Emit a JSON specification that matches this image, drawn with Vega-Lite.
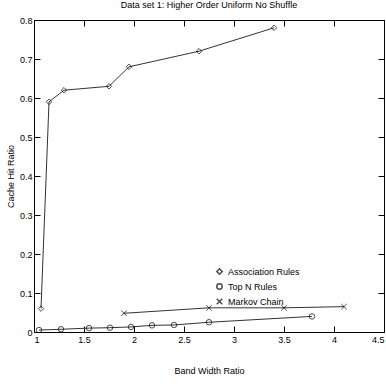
{
  "$schema": "https://vega.github.io/schema/vega-lite/v6.json",
  "width": 350,
  "height": 312,
  "autosize": {"type": "none"},
  "padding": {"left": 34, "top": 20, "right": 2, "bottom": 60},
  "background": "white",
  "config": {
    "font": "Liberation Sans",
    "view": {"stroke": "black", "strokeWidth": 1},
    "axis": {"grid": false, "domain": false, "labelFont": "Liberation Sans", "labelFontSize": 9, "labelColor": "black", "titleFont": "Liberation Sans", "titleFontSize": 9, "titleFontWeight": "normal", "titleColor": "black"}
  },
  "title": {"text": "Data set 1: Higher Order Uniform No Shuffle", "fontSize": 9, "fontWeight": "normal", "font": "Liberation Sans", "offset": 6, "color": "black"},
  "data": {"values": [
    {"series": "Association Rules", "x": 1.07, "y": 0.06},
    {"series": "Association Rules", "x": 1.15, "y": 0.59},
    {"series": "Association Rules", "x": 1.3, "y": 0.62},
    {"series": "Association Rules", "x": 1.75, "y": 0.63},
    {"series": "Association Rules", "x": 1.95, "y": 0.68},
    {"series": "Association Rules", "x": 2.65, "y": 0.72},
    {"series": "Association Rules", "x": 3.4, "y": 0.78},
    {"series": "Top N Rules", "x": 1.05, "y": 0.005},
    {"series": "Top N Rules", "x": 1.27, "y": 0.007},
    {"series": "Top N Rules", "x": 1.55, "y": 0.01},
    {"series": "Top N Rules", "x": 1.76, "y": 0.011},
    {"series": "Top N Rules", "x": 1.97, "y": 0.013},
    {"series": "Top N Rules", "x": 2.18, "y": 0.017},
    {"series": "Top N Rules", "x": 2.4, "y": 0.018},
    {"series": "Top N Rules", "x": 2.75, "y": 0.025},
    {"series": "Top N Rules", "x": 3.78, "y": 0.04},
    {"series": "Markov Chain", "x": 1.9, "y": 0.048},
    {"series": "Markov Chain", "x": 2.75, "y": 0.062},
    {"series": "Markov Chain", "x": 3.5, "y": 0.062},
    {"series": "Markov Chain", "x": 4.1, "y": 0.065}
  ]},
  "layer": [
    {"mark": {"type": "line", "strokeWidth": 1},
     "encoding": {
       "x": {"field": "x", "type": "quantitative", "scale": {"domain": [1, 4.5], "nice": false, "zero": false},
         "axis": {"title": "Band Width Ratio", "values": [1, 1.5, 2, 2.5, 3, 3.5, 4, 4.5], "labelExpr": "datum.value", "ticks": true, "tickSize": 6, "tickColor": "black", "tickWidth": 1, "offset": -6, "labelPadding": 3, "titlePadding": 22}},
       "y": {"field": "y", "type": "quantitative", "scale": {"domain": [0, 0.8], "nice": false},
         "axis": {"title": "Cache Hit Ratio", "values": [0, 0.1, 0.2, 0.3, 0.4, 0.5, 0.6, 0.7, 0.8], "labelExpr": "datum.value", "ticks": true, "tickSize": 6, "tickColor": "black", "tickWidth": 1, "offset": -6, "labelPadding": 2, "titlePadding": 4}},
       "detail": {"field": "series"}, "color": {"value": "#333333"}}},
    {"mark": {"type": "point", "filled": false, "strokeWidth": 1, "size": 30},
     "encoding": {
       "x": {"field": "x", "type": "quantitative",
         "axis": {"orient": "top", "title": null, "labels": false, "ticks": true, "tickSize": 6, "tickColor": "black", "tickWidth": 1, "offset": -6, "values": [1, 1.5, 2, 2.5, 3, 3.5, 4, 4.5]}},
       "y": {"field": "y", "type": "quantitative",
         "axis": {"orient": "right", "title": null, "labels": false, "ticks": true, "tickSize": 6, "tickColor": "black", "tickWidth": 1, "offset": -6, "values": [0, 0.1, 0.2, 0.3, 0.4, 0.5, 0.6, 0.7, 0.8]}},
       "shape": {"field": "series", "type": "nominal",
         "scale": {"domain": ["Association Rules", "Top N Rules", "Markov Chain"], "range": ["diamond", "circle", "M-1,-1L1,1M-1,1L1,-1"]},
         "legend": {"title": null, "orient": "none", "legendX": 181, "legendY": 247, "labelFontSize": 9, "labelFont": "Liberation Sans", "symbolSize": 30, "symbolStrokeColor": "black", "symbolFillColor": "transparent", "rowPadding": 2, "labelColor": "black"}},
       "color": {"value": "black"}}}
  ],
  "resolve": {"axis": {"x": "independent", "y": "independent"}}
}
